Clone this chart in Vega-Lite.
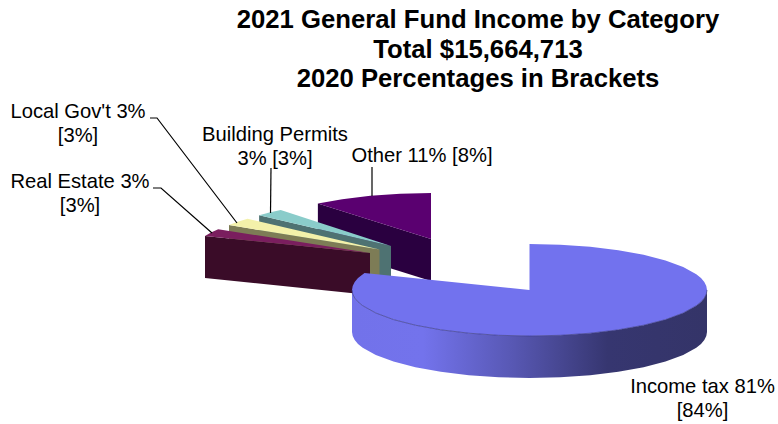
{
  "$schema": "https://vega.github.io/schema/vega-lite/v6.json",
  "autosize": {"type": "none"},
  "padding": {"top": 100, "left": 0, "right": 0, "bottom": 0},
  "width": 778,
  "height": 324,
  "background": "white",
  "view": {"stroke": null},
  "title": {
    "text": ["2021 General Fund Income by Category", "Total $15,664,713", "2020 Percentages in Brackets"],
    "frame": "group",
    "anchor": "middle",
    "dx": 89,
    "offset": 7,
    "font": "Liberation Sans",
    "fontSize": 25.7,
    "fontWeight": "bold",
    "lineHeight": 29.5,
    "color": "black"
  },
  "encoding": {
    "x": {"field": "x", "type": "quantitative", "axis": null, "scale": {"domain": [0, 778], "nice": false, "zero": false}},
    "y": {"field": "y", "type": "quantitative", "axis": null, "scale": {"domain": [424, 100], "nice": false, "zero": false}}
  },
  "datasets": {
    "faces": [
      {"slice": "Other", "face": "Other side", "x": 317.9, "y": 203.6},
      {"slice": "Other", "face": "Other side", "x": 431, "y": 239},
      {"slice": "Other", "face": "Other side", "x": 431, "y": 281},
      {"slice": "Other", "face": "Other side", "x": 317.9, "y": 245.6},
      {"slice": "Other", "face": "Other top", "x": 317.9, "y": 203.6},
      {"slice": "Other", "face": "Other top", "x": 342.25, "y": 199.2},
      {"slice": "Other", "face": "Other top", "x": 370.3, "y": 195.8},
      {"slice": "Other", "face": "Other top", "x": 400.2, "y": 193.7},
      {"slice": "Other", "face": "Other top", "x": 431, "y": 193},
      {"slice": "Other", "face": "Other top", "x": 431, "y": 239},
      {"slice": "Building Permits", "face": "Building side", "x": 259.1, "y": 215.2},
      {"slice": "Building Permits", "face": "Building side", "x": 391, "y": 246},
      {"slice": "Building Permits", "face": "Building side", "x": 391, "y": 288},
      {"slice": "Building Permits", "face": "Building side", "x": 259.1, "y": 257.2},
      {"slice": "Building Permits", "face": "Building top", "x": 259.1, "y": 215.2},
      {"slice": "Building Permits", "face": "Building top", "x": 269.5, "y": 212.5},
      {"slice": "Building Permits", "face": "Building top", "x": 280.7, "y": 210},
      {"slice": "Building Permits", "face": "Building top", "x": 391, "y": 246},
      {"slice": "Local Gov't", "face": "Local side", "x": 229, "y": 225.1},
      {"slice": "Local Gov't", "face": "Local side", "x": 379.5, "y": 249.5},
      {"slice": "Local Gov't", "face": "Local side", "x": 379.5, "y": 291.5},
      {"slice": "Local Gov't", "face": "Local side", "x": 229, "y": 267.1},
      {"slice": "Local Gov't", "face": "Local top", "x": 229, "y": 225.1},
      {"slice": "Local Gov't", "face": "Local top", "x": 237.7, "y": 221.8},
      {"slice": "Local Gov't", "face": "Local top", "x": 247.6, "y": 218.7},
      {"slice": "Local Gov't", "face": "Local top", "x": 379.5, "y": 249.5},
      {"slice": "Real Estate", "face": "Real Estate side", "x": 205, "y": 236.1},
      {"slice": "Real Estate", "face": "Real Estate side", "x": 370, "y": 253},
      {"slice": "Real Estate", "face": "Real Estate side", "x": 370, "y": 295},
      {"slice": "Real Estate", "face": "Real Estate side", "x": 205, "y": 278.1},
      {"slice": "Real Estate", "face": "Real Estate top", "x": 205, "y": 236.1},
      {"slice": "Real Estate", "face": "Real Estate top", "x": 211, "y": 232.5},
      {"slice": "Real Estate", "face": "Real Estate top", "x": 218.2, "y": 229.2},
      {"slice": "Real Estate", "face": "Real Estate top", "x": 370, "y": 253}
    ],
    "incomeTop": [
      {"x": 529.5, "y": 244}, {"x": 560.3, "y": 244.7}, {"x": 590.2, "y": 246.8}, {"x": 618.3, "y": 250.2},
      {"x": 643.6, "y": 254.8}, {"x": 665.5, "y": 260.4}, {"x": 683.2, "y": 267}, {"x": 696.3, "y": 274.3},
      {"x": 701, "y": 278.1}, {"x": 704.3, "y": 282}, {"x": 706.3, "y": 286}, {"x": 707, "y": 290},
      {"x": 706.3, "y": 294}, {"x": 704.3, "y": 298}, {"x": 701, "y": 301.9}, {"x": 696.3, "y": 305.7},
      {"x": 683.2, "y": 313}, {"x": 665.5, "y": 319.6}, {"x": 643.6, "y": 325.2}, {"x": 618.3, "y": 329.8},
      {"x": 590.2, "y": 333.2}, {"x": 560.3, "y": 335.3}, {"x": 529.5, "y": 336}, {"x": 498.7, "y": 335.3},
      {"x": 468.8, "y": 333.2}, {"x": 440.75, "y": 329.8}, {"x": 415.4, "y": 325.2}, {"x": 393.5, "y": 319.6},
      {"x": 375.8, "y": 313}, {"x": 362.7, "y": 305.7}, {"x": 358, "y": 301.9}, {"x": 354.7, "y": 298},
      {"x": 352.7, "y": 294}, {"x": 352, "y": 290}, {"x": 352.7, "y": 286}, {"x": 354.7, "y": 282},
      {"x": 358, "y": 278.1}, {"x": 364.5, "y": 273.1}, {"x": 529.5, "y": 290}
    ],
    "incomeRim": [
      {"x": 707, "y": 290}, {"x": 706.3, "y": 294}, {"x": 704.3, "y": 298}, {"x": 701, "y": 301.9},
      {"x": 696.3, "y": 305.7}, {"x": 683.2, "y": 313}, {"x": 665.5, "y": 319.6}, {"x": 643.6, "y": 325.2},
      {"x": 618.3, "y": 329.8}, {"x": 590.2, "y": 333.2}, {"x": 560.3, "y": 335.3}, {"x": 529.5, "y": 336},
      {"x": 498.7, "y": 335.3}, {"x": 468.8, "y": 333.2}, {"x": 440.75, "y": 329.8}, {"x": 415.4, "y": 325.2},
      {"x": 393.5, "y": 319.6}, {"x": 375.8, "y": 313}, {"x": 362.7, "y": 305.7}, {"x": 358, "y": 301.9},
      {"x": 354.7, "y": 298}, {"x": 352.7, "y": 294}, {"x": 352, "y": 290}
    ],
    "incomeSide": [
      {"x": 707, "y": 290}, {"x": 706.3, "y": 294}, {"x": 704.3, "y": 298}, {"x": 701, "y": 301.9},
      {"x": 696.3, "y": 305.7}, {"x": 683.2, "y": 313}, {"x": 665.5, "y": 319.6}, {"x": 643.6, "y": 325.2},
      {"x": 618.3, "y": 329.8}, {"x": 590.2, "y": 333.2}, {"x": 560.3, "y": 335.3}, {"x": 529.5, "y": 336},
      {"x": 498.7, "y": 335.3}, {"x": 468.8, "y": 333.2}, {"x": 440.75, "y": 329.8}, {"x": 415.4, "y": 325.2},
      {"x": 393.5, "y": 319.6}, {"x": 375.8, "y": 313}, {"x": 362.7, "y": 305.7}, {"x": 358, "y": 301.9},
      {"x": 354.7, "y": 298}, {"x": 352.7, "y": 294}, {"x": 352, "y": 290},
      {"x": 352, "y": 332}, {"x": 352.7, "y": 336}, {"x": 354.7, "y": 340}, {"x": 358, "y": 343.9},
      {"x": 362.7, "y": 347.7}, {"x": 375.8, "y": 355}, {"x": 393.5, "y": 361.6}, {"x": 415.4, "y": 367.2},
      {"x": 440.75, "y": 371.8}, {"x": 468.8, "y": 375.2}, {"x": 498.7, "y": 377.3}, {"x": 529.5, "y": 378},
      {"x": 560.3, "y": 377.3}, {"x": 590.2, "y": 375.2}, {"x": 618.3, "y": 371.8}, {"x": 643.6, "y": 367.2},
      {"x": 665.5, "y": 361.6}, {"x": 683.2, "y": 355}, {"x": 696.3, "y": 347.7}, {"x": 701, "y": 343.9},
      {"x": 704.3, "y": 340}, {"x": 706.3, "y": 336}, {"x": 707, "y": 332}
    ],
    "leaders": [
      {"slice": "Local Gov't", "x": 150, "y": 118},
      {"slice": "Local Gov't", "x": 157, "y": 118},
      {"slice": "Local Gov't", "x": 237, "y": 223},
      {"slice": "Real Estate", "x": 153, "y": 188},
      {"slice": "Real Estate", "x": 161, "y": 188},
      {"slice": "Real Estate", "x": 212, "y": 233},
      {"slice": "Building Permits", "x": 271, "y": 168},
      {"slice": "Building Permits", "x": 270.5, "y": 213},
      {"slice": "Other", "x": 372, "y": 167},
      {"slice": "Other", "x": 372, "y": 196}
    ],
    "labels": [
      {"label": "Local Gov't 3%\n[3%]", "share": 3, "x": 78, "y": 118},
      {"label": "Real Estate 3%\n[3%]", "share": 3, "x": 80, "y": 188},
      {"label": "Building Permits\n3% [3%]", "share": 3, "x": 275, "y": 141},
      {"label": "Other 11% [8%]", "share": 11, "x": 422, "y": 162},
      {"label": "Income tax 81%\n[84%]", "share": 81, "x": 702.5, "y": 392.5}
    ]
  },
  "layer": [
    {
      "data": {"name": "faces"},
      "transform": [{"window": [{"op": "row_number", "as": "vertex"}], "groupby": ["face"]}],
      "mark": {"type": "line", "interpolate": "linear-closed", "strokeWidth": 0},
      "encoding": {
        "order": {"field": "vertex", "type": "quantitative"},
        "fill": {
          "field": "face",
          "type": "nominal",
          "legend": null,
          "sort": null,
          "scale": {
            "domain": ["Other side", "Other top", "Building side", "Building top", "Local side", "Local top", "Real Estate side", "Real Estate top"],
            "range": ["#2a0040", "#5a0070", "#4e7272", "#8accca", "#7d7c56", "#f3f1aa", "#3a0c28", "#7a1e5e"]
          }
        }
      }
    },
    {
      "data": {"name": "incomeSide"},
      "transform": [{"window": [{"op": "row_number", "as": "vertex"}]}],
      "mark": {
        "type": "line",
        "interpolate": "linear-closed",
        "strokeWidth": 0,
        "fill": {
          "gradient": "linear",
          "x1": 0, "y1": 0, "x2": 1, "y2": 0,
          "stops": [
            {"offset": 0, "color": "#7272ea"},
            {"offset": 0.2, "color": "#7373ec"},
            {"offset": 0.45, "color": "#5858b4"},
            {"offset": 0.72, "color": "#363670"},
            {"offset": 1, "color": "#343468"}
          ]
        }
      },
      "encoding": {"order": {"field": "vertex", "type": "quantitative"}}
    },
    {
      "data": {"name": "incomeTop"},
      "transform": [{"window": [{"op": "row_number", "as": "vertex"}]}],
      "mark": {"type": "line", "interpolate": "linear-closed", "strokeWidth": 0, "fill": "#7272ee"},
      "encoding": {"order": {"field": "vertex", "type": "quantitative"}}
    },
    {
      "data": {"name": "incomeRim"},
      "transform": [{"window": [{"op": "row_number", "as": "vertex"}]}],
      "mark": {"type": "line", "stroke": "#3c3c86", "strokeWidth": 0.7},
      "encoding": {"order": {"field": "vertex", "type": "quantitative"}}
    },
    {
      "data": {"name": "leaders"},
      "transform": [{"window": [{"op": "row_number", "as": "vertex"}], "groupby": ["slice"]}],
      "mark": {"type": "line", "stroke": "black", "strokeWidth": 1.2},
      "encoding": {"order": {"field": "vertex", "type": "quantitative"}, "detail": {"field": "slice"}}
    },
    {
      "data": {"name": "labels"},
      "mark": {
        "type": "text",
        "align": "center",
        "baseline": "alphabetic",
        "lineBreak": "\n",
        "lineHeight": 24,
        "font": "Liberation Sans",
        "fontSize": 20.2,
        "color": "black"
      },
      "encoding": {"text": {"field": "label"}}
    }
  ]
}
